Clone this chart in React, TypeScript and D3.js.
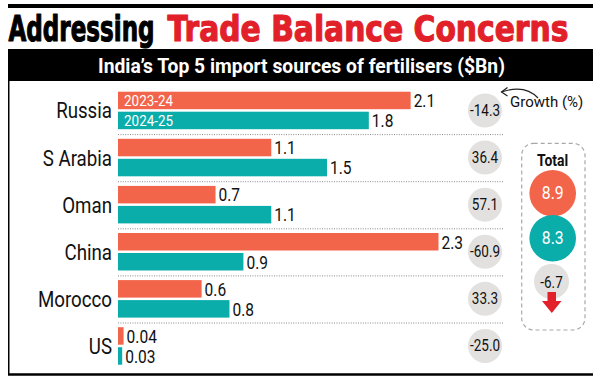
import React, { useLayoutEffect, useRef, useState } from "react";
import * as d3 from "d3";

const countries = ["Russia", "S Arabia", "Oman", "China", "Morocco", "US"];
const seriesNames = ["2023-24", "2024-25"];
const values2324 = [2.1, 1.1, 0.7, 2.3, 0.6, 0.04];
const values2425 = [1.8, 1.5, 1.1, 0.9, 0.8, 0.03];
const growthPct = ["-14.3", "36.4", "57.1", "-60.9", "33.3", "-25.0"];
const totals = [8.9, 8.3];
const totalGrowth = "-6.7";

const W = 600;
const H = 381;
const ORANGE = "#f2654a";
const TEAL = "#0aadaa";
const RED = "#e2202a";
const GREY = "#e3e1df";
const FONT = "Roboto, 'Noto Sans', sans-serif";

const fmt = (v: number) => (v < 0.1 ? v.toFixed(2) : v.toFixed(1));

function T(props: {
  x: number;
  y: number;
  sx?: number;
  size: number;
  anchor?: string;
  fill?: string;
  weight?: any;
  children: any;
}) {
  const { x, y, sx = 1, size, anchor = "start", fill = "#111", weight = 400 } = props;
  return (
    <text
      transform={`translate(${x},${y}) scale(${sx},1)`}
      fontSize={size}
      fontFamily={FONT}
      fontWeight={weight}
      textAnchor={anchor}
      fill={fill}
    >
      {props.children}
    </text>
  );
}

// text squeezed horizontally to a target width, measured after layout
function FitText(props: {
  x: number;
  y: number;
  width: number;
  size: number;
  family: string;
  fill: string;
  strokeW?: number;
  children: any;
}) {
  const ref = useRef<SVGTextElement>(null);
  const [sx, setSx] = useState(0.7);
  useLayoutEffect(() => {
    if (ref.current) {
      const w = ref.current.getComputedTextLength();
      if (w > 0) setSx(props.width / w);
    }
  }, [props.width]);
  return (
    <text
      ref={ref}
      transform={`translate(${props.x},${props.y}) scale(${sx},1)`}
      fontSize={props.size}
      fontFamily={props.family}
      fontWeight={700}
      fill={props.fill}
      stroke={props.strokeW ? props.fill : "none"}
      strokeWidth={props.strokeW || 0}
      strokeLinejoin="round"
    >
      {props.children}
    </text>
  );
}

export default function App() {
  const x = d3.scaleLinear().domain([0, 2.3]).range([118, 438.5]);
  const outer = d3
    .scaleBand<string>()
    .domain(countries)
    .range([87, 87 + countries.length * 47.1])
    .paddingInner(0)
    .paddingOuter(0);
  const inner = d3
    .scaleBand<string>()
    .domain(seriesNames)
    .range([0, 37.5])
    .paddingInner(0.125)
    .paddingOuter(0);
  const series = [values2324, values2425];
  const colors = [ORANGE, TEAL];

  const rows = countries.map((c, i) => {
    const top = (outer(c) as number) + 4.7;
    const center = top + 18.75;
    return (
      <g key={c}>
        {i > 0 && (
          <line
            x1={118}
            x2={503}
            y1={(outer(c) as number) + 0.5}
            y2={(outer(c) as number) + 0.5}
            stroke="#8a8a8a"
            strokeWidth={1}
            strokeDasharray="1 1.4"
          />
        )}
        <T x={112} y={center + 8} size={21.5} sx={0.87} anchor="end">
          {c}
        </T>
        {series.map((vals, s) => {
          const by = top + (inner(seriesNames[s]) as number);
          const bh = inner.bandwidth();
          const xe = x(vals[i]);
          return (
            <g key={s}>
              <rect x={x(0)} y={by} width={xe - x(0)} height={bh} fill={colors[s]} />
              {i === 0 && (
                <T x={x(0) + 6} y={by + bh - 3} size={15.5} sx={0.87} fill="#fff">
                  {seriesNames[s]}
                </T>
              )}
              <T x={xe + 3} y={by + bh - 2} size={18.5} sx={0.84}>
                {fmt(vals[i])}
              </T>
            </g>
          );
        })}
        <circle cx={485} cy={center} r={17} fill={GREY} />
        <T x={485} y={center + 5.5} size={16.5} sx={0.82} anchor="middle">
          {growthPct[i]}
        </T>
      </g>
    );
  });

  return (
    <svg
      width={W}
      height={H}
      viewBox={`0 0 ${W} ${H}`}
      style={{ position: "fixed", left: 0, top: 0, background: "#fff" }}
    >
      <rect x={0} y={0} width={W} height={H} fill="#fff" />
      {/* top rule */}
      <rect x={8} y={4} width={585} height={4} fill="#000" />
      {/* title */}
      <FitText x={8.5} y={41} width={146} size={36} family="'DejaVu Sans', sans-serif" fill="#000" strokeW={1.2}>
        Addressing
      </FitText>
      <FitText x={167.5} y={41} width={401} size={36} family="'DejaVu Sans', sans-serif" fill={RED} strokeW={1.2}>
        Trade Balance Concerns
      </FitText>
      {/* banner */}
      <rect x={8} y={49} width={585} height={32} fill="#000" />
      <FitText x={98} y={73} width={407} size={20} family={FONT} fill="#fff">
        India’s Top 5 import sources of fertilisers ($Bn)
      </FitText>
      {/* frame */}
      <line x1={8.75} x2={8.75} y1={80} y2={375} stroke="#000" strokeWidth={1.5} />
      <line x1={8} x2={593} y1={374.5} y2={374.5} stroke="#000" strokeWidth={2.5} />

      {rows}

      {/* growth annotation */}
      <T x={510} y={107} size={15.5} sx={0.97}>
        Growth (%)
      </T>
      <path d="M538,98 Q525,84 501.5,92" fill="none" stroke="#222" strokeWidth={1.2} />
      <path d="M507.5,87.5 L501.5,92 L507.5,96" fill="none" stroke="#222" strokeWidth={1.2} />

      {/* totals box */}
      <rect
        x={521.7}
        y={143.3}
        width={63.3}
        height={186.7}
        rx={12}
        fill="none"
        stroke="#a8a8a8"
        strokeWidth={1.2}
        strokeDasharray="4 3"
      />
      <T x={552.5} y={166} size={16} sx={0.87} anchor="middle" weight={700}>
        Total
      </T>
      {totals.map((t, k) => (
        <g key={k}>
          <circle cx={552.7} cy={193.3 + k * 45} r={23.3} fill={colors[k]} />
          <T x={552.7} y={193.3 + k * 45 + 6} size={17.5} sx={0.9} anchor="middle" fill="#fff">
            {t.toFixed(1)}
          </T>
        </g>
      ))}
      <circle cx={551.5} cy={281.5} r={17.5} fill={GREY} />
      <T x={551.5} y={288} size={16.5} sx={0.82} anchor="middle">
        {totalGrowth}
      </T>
      <path
        d="M547.5,292 L556,292 L556,301 L561.5,301 L551.8,313 L542,301 L547.5,301 Z"
        fill={RED}
      />
    </svg>
  );
}
